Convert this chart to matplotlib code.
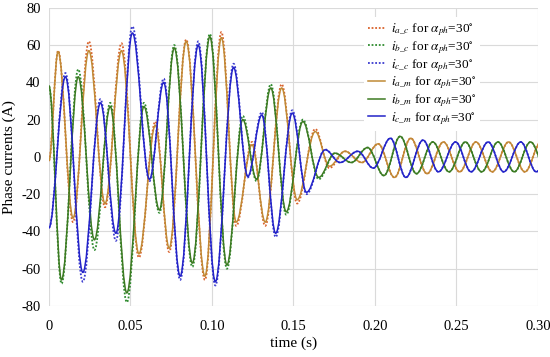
import matplotlib.pyplot as plt
from matplotlib.path import Path
from matplotlib.patches import PathPatch
from matplotlib.lines import Line2D

plt.rcParams['font.family'] = ['Liberation Serif', 'DejaVu Serif']
plt.rcParams['mathtext.fontset'] = 'stix'
plt.rcParams['axes.unicode_minus'] = False

# extrema of each phase current (time in s, current in A)
t_a = [0, 0.0056, 0.0148, 0.0245, 0.0344, 0.0445, 0.0552, 0.0653, 0.0738, 0.0842,
       0.0957, 0.1058, 0.1149, 0.1246, 0.1327, 0.1428, 0.1523, 0.1634, 0.1721, 0.1816,
       0.1920, 0.2020, 0.2120, 0.2220, 0.2320, 0.2420, 0.2520, 0.2620, 0.2720, 0.2820,
       0.2920, 0.3020]
ia_m = [-2, 56.5, -32.8, 57, -25, 57, -52, 17, -49, 62,
        -64, 64, -35, 6.5, -35, 37, -23, 13.6, -5, 3,
        -3, 7, -11, 10, -9, 8, -8, 8, -8, 8,
        -8, 8]
ia_c = [-2, 57, -35, 62, -27, 61, -54, 19, -51, 63,
        -66, 67, -37, 8, -37, 39, -25, 15, -6, 3,
        -3, 7, -11, 10, -9, 8, -8, 8, -8, 8,
        -8, 8]

t_b = [0, 0.0077, 0.0180, 0.0279, 0.0376, 0.0478, 0.0583, 0.0678, 0.0769, 0.0880,
       0.0987, 0.1092, 0.1189, 0.1274, 0.1361, 0.1456, 0.1558, 0.1655, 0.1755, 0.1855,
       0.1955, 0.2055, 0.2155, 0.2255, 0.2355, 0.2455, 0.2555, 0.2655, 0.2755, 0.2855,
       0.2955, 0.3055]
ib_m = [38, -66, 43, -44.5, 27, -73, 27, -28.5, 58.5, -57,
        64.5, -58, 20, -12, 37, -29.5, 19, -11, 2, -3,
        5, -10, 11, -9, 8, -8, 8, -8, 8, -8,
        8, -8]
ib_c = [38, -68, 47, -50, 29, -78, 29, -30, 60, -59,
        66, -60, 22, -13, 39, -31, 20, -12, 2, -3,
        5, -10, 11, -9, 8, -8, 8, -8, 8, -8,
        8, -8]

t_c = [0, 0.0101, 0.0208, 0.0316, 0.0411, 0.0512, 0.0617, 0.0704, 0.0805, 0.0916,
       0.1021, 0.1133, 0.1220, 0.1306, 0.1391, 0.1493, 0.1580, 0.1695, 0.1786, 0.1895,
       0.1990, 0.2095, 0.2190, 0.2295, 0.2390, 0.2495, 0.2590, 0.2695, 0.2790, 0.2895,
       0.2990, 0.3095]
ic_m = [-38, 43, -62, 29, -41, 66.5, -12, 40, -64, 60,
        -67, 48, -10.5, 22.5, -41, 23.5, -19, 3.8, -3, 3,
        -6, 10, -11, 9, -8, 8, -8, 8, -8, 8,
        -8, 8]
ic_c = [-38, 45, -67, 31, -45, 70, -13, 42, -66, 62,
        -69, 50, -11, 24, -43, 25, -20, 4, -3, 3,
        -6, 10, -11, 9, -8, 8, -8, 8, -8, 8,
        -8, 8]

labels = [r'$i_{a\_c}$ for $\alpha_{ph}$=30$^{\circ}$',
          r'$i_{b\_c}$ for $\alpha_{ph}$=30$^{\circ}$',
          r'$i_{c\_c}$ for $\alpha_{ph}$=30$^{\circ}$',
          r'$i_{a\_m}$ for $\alpha_{ph}$=30$^{\circ}$',
          r'$i_{b\_m}$ for $\alpha_{ph}$=30$^{\circ}$',
          r'$i_{c\_m}$ for $\alpha_{ph}$=30$^{\circ}$']
xticks = [0, 0.05, 0.10, 0.15, 0.20, 0.25, 0.30]
xticklabels = ['0', '0.05', '0.10', '0.15', '0.20', '0.25', '0.30']
yticks = [-80, -60, -40, -20, 0, 20, 40, 60, 80]


def smooth_path(t, v):
    # smoothed line through the extrema (flat tangent at each extremum)
    verts = [(t[0], v[0])]
    codes = [Path.MOVETO]
    for i in range(len(t) - 1):
        dt = t[i + 1] - t[i]
        verts += [(t[i] + 0.36 * dt, v[i]), (t[i + 1] - 0.36 * dt, v[i + 1]), (t[i + 1], v[i + 1])]
        codes += [Path.CURVE4] * 3
    return Path(verts, codes)


fig, ax = plt.subplots(figsize=(5.5, 3.57), dpi=100)
fig.subplots_adjust(left=0.089, right=0.978, top=0.978, bottom=0.143)

series = [(t_a, ia_c, '#D9622B', (0, (1, 1))),
          (t_b, ib_c, '#2E8B2E', (0, (1, 1))),
          (t_c, ic_c, '#3A3ACF', (0, (1, 1))),
          (t_a, ia_m, '#C08A35', '-'),
          (t_b, ib_m, '#3D7A22', '-'),
          (t_c, ic_m, '#2323C8', '-')]
handles = []
for (t, v, col, ls), lab in zip(series, labels):
    lw = 1.3 if ls != '-' else 1.1
    ax.add_patch(PathPatch(smooth_path(t, v), fill=False, edgecolor=col,
                           linestyle=ls, linewidth=lw))
    handles.append(Line2D([], [], color=col, linestyle=ls, linewidth=lw, label=lab))

ax.set_xlim(0, 0.3)
ax.set_ylim(-80, 80)
ax.set_xticks(xticks)
ax.set_xticklabels(xticklabels)
ax.set_yticks(yticks)
ax.grid(True, color='#DADADA', linewidth=0.8)
ax.set_axisbelow(True)
for s in ax.spines.values():
    s.set_visible(False)
ax.tick_params(length=0, labelsize=10.5)
ax.tick_params(axis='x', pad=10)
ax.tick_params(axis='y', pad=6)
ax.set_xlabel('time (s)', fontsize=11, labelpad=3)
ax.set_ylabel('Phase currents (A)', fontsize=11, labelpad=4)

leg = ax.legend(handles=handles, loc='upper right', bbox_to_anchor=(0.895, 0.99),
                fontsize=9.5, frameon=True, fancybox=False, edgecolor='none',
                framealpha=1, handlelength=1.3, handletextpad=0.4,
                labelspacing=0.08, borderpad=0.3)

fig.savefig('out.png', dpi=100)
